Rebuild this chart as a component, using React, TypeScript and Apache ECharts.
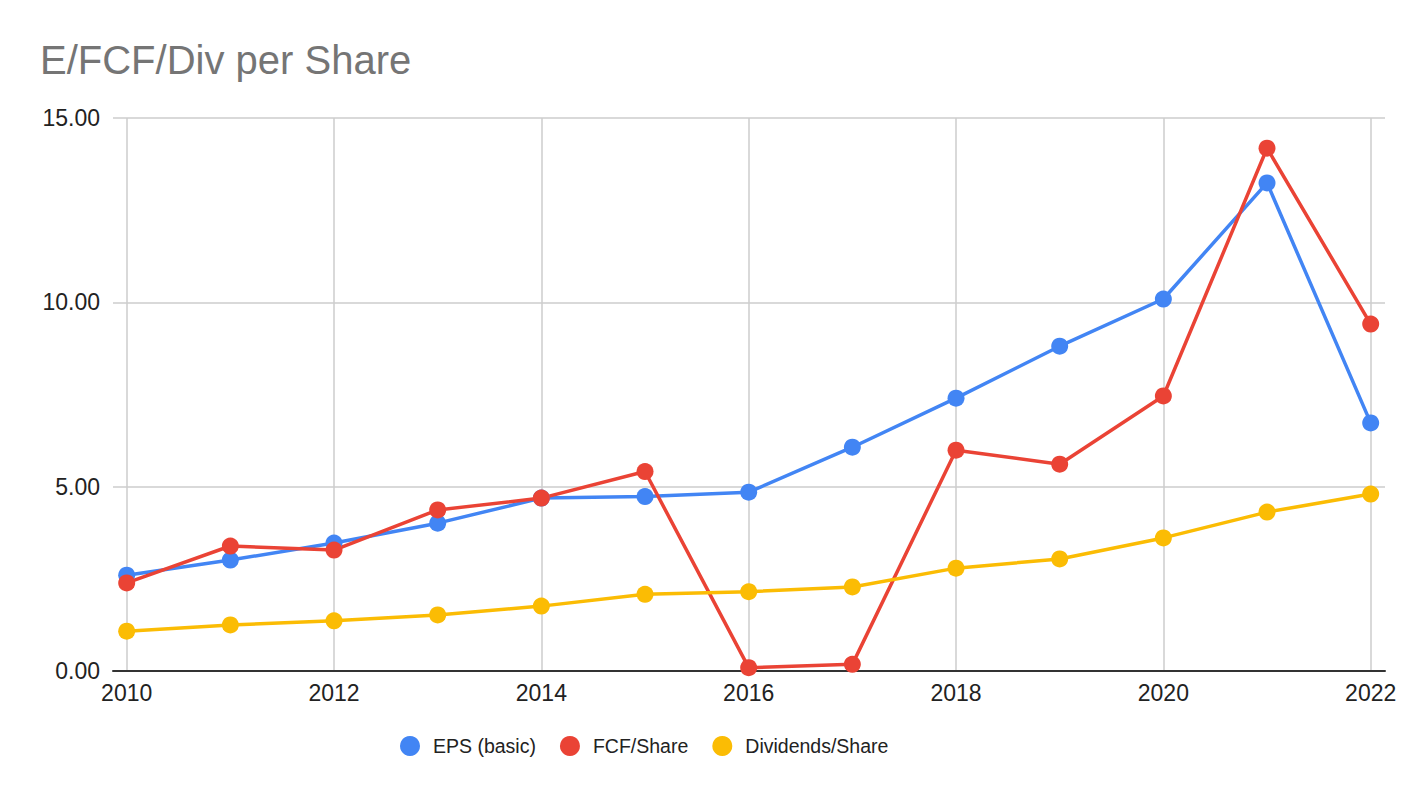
import React, { useEffect, useRef } from "react";
import * as echarts from "echarts";

const years = [2010, 2011, 2012, 2013, 2014, 2015, 2016, 2017, 2018, 2019, 2020, 2021, 2022];
const xTicks = [2010, 2012, 2014, 2016, 2018, 2020, 2022];
const epsBasic = [2.6, 3.01, 3.47, 4.01, 4.69, 4.73, 4.85, 6.07, 7.4, 8.81, 10.09, 13.24, 6.73];
const fcfShare = [2.39, 3.39, 3.28, 4.37, 4.69, 5.41, 0.09, 0.18, 5.99, 5.61, 7.46, 14.18, 9.41];
const divShare = [1.08, 1.25, 1.36, 1.52, 1.76, 2.08, 2.15, 2.28, 2.79, 3.04, 3.61, 4.31, 4.8];

const FONT = "'Liberation Sans', Arial, sans-serif";

export default function App() {
  const ref = useRef<HTMLDivElement>(null);
  useEffect(() => {
    if (!ref.current) return;
    const chart = echarts.init(ref.current, undefined, { renderer: "svg" });
    const pair = (arr: number[]) => years.map((y, i) => [y, arr[i]]);
    const mk = (name: string, arr: number[], color: string) => ({
      name,
      type: "line",
      data: pair(arr),
      symbol: "circle",
      symbolSize: 17,
      showSymbol: true,
      itemStyle: { color },
      lineStyle: { color, width: 3.5 },
      emphasis: { disabled: true },
    });
    chart.setOption({
      animation: false,
      backgroundColor: "#ffffff",
      textStyle: { fontFamily: FONT },
      title: {
        text: "E/FCF/Div per Share",
        left: 35,
        top: 35,
        textStyle: { fontFamily: FONT, fontSize: 40, fontWeight: "normal", color: "#757575" },
      },
      legend: {
        left: 395,
        top: 731,
        icon: "circle",
        itemWidth: 20,
        itemHeight: 20,
        itemGap: 24,
        textStyle: { fontFamily: FONT, fontSize: 19.5, color: "#222222", padding: [0, 0, 0, 8] },
        data: ["EPS (basic)", "FCF/Share", "Dividends/Share"],
      },
      grid: {
        left: 113,
        right: 39,
        top: 118,
        bottom: 127,
        containLabel: false,
        outerBoundsMode: "none",
      },
      xAxis: {
        type: "value",
        min: 2009.868,
        max: 2022.138,
        axisLine: { show: true, lineStyle: { color: "#333333", width: 2 } },
        axisTick: { show: false, customValues: xTicks },
        axisLabel: {
          customValues: xTicks,
          fontSize: 23,
          color: "#222222",
          margin: 10,
          fontFamily: FONT,
          formatter: (v: number) => String(Math.round(v)),
        },
        splitLine: { show: true, lineStyle: { color: "#cccccc", width: 1.5 } },
      },
      yAxis: {
        type: "value",
        min: 0,
        max: 15,
        interval: 5,
        axisLine: { show: false },
        axisTick: { show: false },
        axisLabel: {
          fontSize: 23,
          color: "#222222",
          margin: 13,
          fontFamily: FONT,
          formatter: (v: number) => v.toFixed(2),
        },
        splitLine: { show: true, lineStyle: { color: "#cccccc", width: 1.5 } },
      },
      series: [
        mk("EPS (basic)", epsBasic, "#4285F4"),
        mk("FCF/Share", fcfShare, "#EA4335"),
        mk("Dividends/Share", divShare, "#FBBC04"),
      ],
    });
    return () => chart.dispose();
  }, []);
  return (
    <div
      ref={ref}
      style={{ position: "fixed", left: 0, top: 0, width: 1424, height: 798, background: "#fff" }}
    />
  );
}
